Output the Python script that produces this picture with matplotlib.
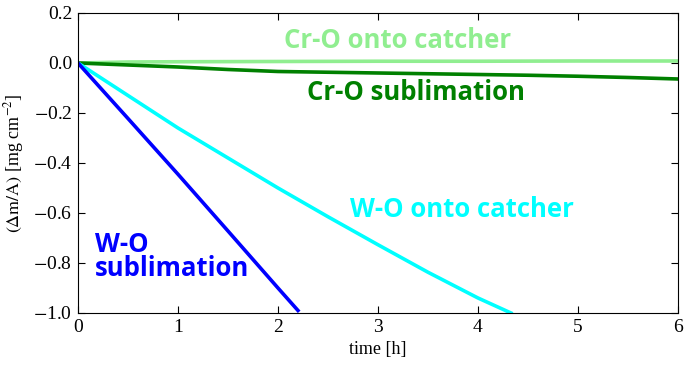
import matplotlib
matplotlib.use('Agg')
import matplotlib.pyplot as plt

# data (time in h, mass change in mg cm^-2)
t_cr_catch = [0, 0.5, 1, 2, 3, 4, 5, 6]
cr_catch = [0.0, 0.004, 0.005, 0.006, 0.007, 0.007, 0.008, 0.008]

t_cr_subl = [0, 0.5, 1, 1.5, 2, 2.5, 3, 3.5, 4, 4.5, 5, 5.5, 6]
cr_subl = [0.0, -0.008, -0.016, -0.026, -0.034, -0.037, -0.040, -0.043, -0.046,
           -0.049, -0.053, -0.058, -0.064]

t_w_catch = [0, 0.5, 1, 1.5, 2, 2.5, 3, 3.5, 4, 4.33]
w_catch = [0.0, -0.13, -0.26, -0.38, -0.50, -0.615, -0.727, -0.837, -0.94, -1.0]

t_w_subl = [0, 0.5, 1, 1.5, 2, 2.2]
w_subl = [0.0, -0.222, -0.445, -0.672, -0.9, -0.99]

plt.rcParams['font.family'] = ['Liberation Serif', 'DejaVu Serif']
plt.rcParams['mathtext.fontset'] = 'stix'

fig = plt.figure(figsize=(6.98, 3.65), dpi=100)
ax = fig.add_axes([0.1117, 0.1425, 0.8596, 0.8219])

ax.plot(t_cr_catch, cr_catch, color='#90ee90', lw=2.6)
ax.plot(t_cr_subl, cr_subl, color='#008000', lw=2.6)
ax.plot(t_w_catch, w_catch, color='#00ffff', lw=2.6)
ax.plot(t_w_subl, w_subl, color='#0000ff', lw=2.6)

ax.set_xlim(0, 6)
ax.set_ylim(-1.0, 0.2)
ax.set_xticks([0, 1, 2, 3, 4, 5, 6])
ax.set_yticks([-1.0, -0.8, -0.6, -0.4, -0.2, 0.0, 0.2])
ax.set_yticklabels(['$-$1.0', '$-$0.8', '$-$0.6', '$-$0.4', '$-$0.2', '0.0', '0.2'])
ax.tick_params(direction='in', top=True, right=True, length=5, labelsize=14, pad=4)
ax.set_xlabel('time [h]', fontsize=13, labelpad=4)
ax.set_ylabel(r'$(\Delta\mathrm{m/A})$ [mg cm$^{-2}$]', fontsize=13, labelpad=5)

lab = dict(fontfamily='Open Sans', fontweight='bold', fontsize=18.5)
ax.text(3.2, 0.09, 'Cr-O onto catcher', color='#90ee90', ha='center', va='center', **lab)
ax.text(3.38, -0.12, 'Cr-O sublimation', color='#008000', ha='center', va='center', **lab)
ax.text(3.84, -0.588, 'W-O onto catcher', color='#00ffff', ha='center', va='center', **lab)
ax.text(0.17, -0.774, 'W-O\nsublimation', color='#0000ff', ha='left', va='center',
        linespacing=0.9, **lab)

fig.savefig('out.png')
